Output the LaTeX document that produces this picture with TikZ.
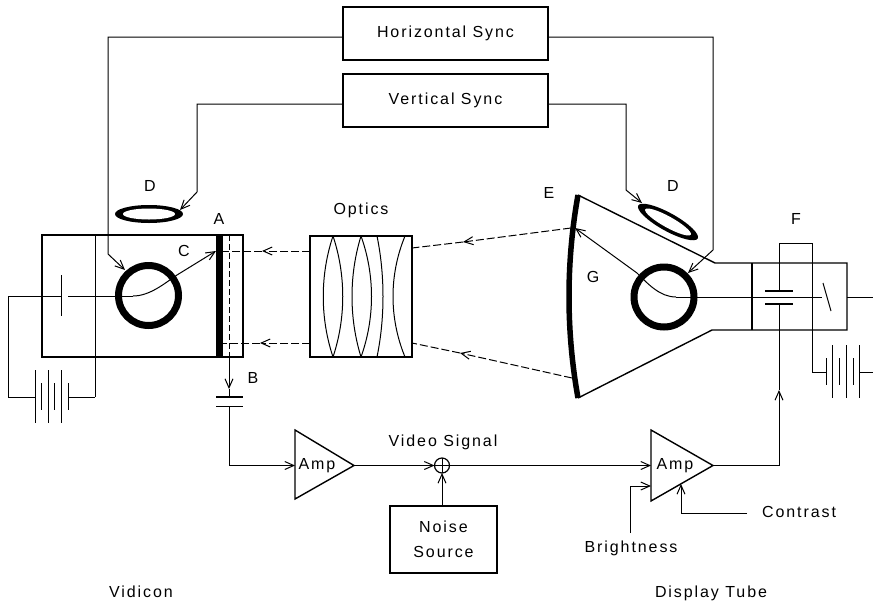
\documentclass[tikz,border=0pt]{standalone}
\usepackage{fontspec}
\setmainfont[LetterSpace=12]{Liberation Sans}
\usetikzlibrary{arrows.meta,shapes.geometric}
\tikzset{
    wire/.style={line width=1pt},
    wall/.style={line width=1.4pt},
    beamdash/.style={line width=1pt,dash pattern=on 8pt off 3pt},
    syncbox/.style={draw,line width=1.4pt,minimum width=205pt,minimum height=53pt,inner sep=0pt,outer sep=0pt},
    coil/.style={ellipse,fill=black,minimum width=68pt,minimum height=18pt,inner sep=0pt},
    coilhole/.style={ellipse,fill=white,minimum width=52pt,minimum height=11pt,inner sep=0pt},
    ring/.style={draw,circle,line width=7pt,minimum size=60pt,inner sep=0pt,outer sep=0pt},
    tag/.style={inner sep=0pt}
}
\begin{document}
\begin{tikzpicture}[x=1pt,y=-1pt,>={Straight Barb[length=9pt,width=8pt]},font=\fontsize{16}{25}\selectfont]
    \useasboundingbox (0,0) rectangle (873,603);

    \node [syncbox] (hsync) at (445.5,33.5) {Horizontal Sync};
    \node [syncbox] (vsync) at (445.5,100.5) {Vertical Sync};
    \node [syncbox,minimum width=107pt,minimum height=67pt,align=center] (noise) at (443.5,539.5) {Noise\\Source};

    \node [ring] (ringv) at (148.5,295.5) {};
    \node [ring] (ringd) at (664,297) {};
    \node [coil] (coilv) at (149,214) {};
    \node [coilhole] (holev) at (149,214) {};
    \node [coil,rotate=-29] (coild) at (668,222) {};
    \node [coilhole,rotate=-29] (holed) at (668,222) {};

    \node [tag] (lblA) at (219,219) {A};
    \node [tag] (lblB) at (253,378) {B};
    \node [tag] (lblC) at (184,251) {C};
    \node [tag] (lblDv) at (150,186) {D};
    \node [tag] (lblDd) at (673,186) {D};
    \node [tag] (lblE) at (549,193) {E};
    \node [tag] (lblF) at (796,219) {F};
    \node [tag] (lblG) at (593,277) {G};
    \node [tag] (lblOptics) at (361,210) {Optics};
    \node [tag] (lblVideo) at (443,442) {Video Signal};
    \node [tag] (lblContrast) at (799,512) {Contrast};
    \node [tag] (lblBright) at (631,548) {Brightness};
    \node [tag] (lblVidicon) at (141,592) {Vidicon};
    \node [tag] (lblDisplay) at (711,593) {Display Tube};

    \coordinate (amponeT) at (295,430);
    \coordinate (amponeB) at (295,499);
    \coordinate (amponeIn) at (295,465.5);
    \coordinate (amponeOut) at (354,465.5);
    \coordinate (amptwoT) at (651,430);
    \coordinate (amptwoB) at (651,501);
    \coordinate (amptwoIn) at (651,465.5);
    \coordinate (amptwoOut) at (713,465.5);
    \draw [wall] (amponeT) -- (amponeOut) -- (amponeB) -- cycle;
    \draw [wall] (amptwoT) -- (amptwoOut) -- (amptwoB) -- cycle;
    \node [tag] (ampone) at (317,466) {Amp};
    \node [tag] (amptwo) at (675,466) {Amp};

    \node [draw,circle,line width=1.2pt,minimum size=15pt,inner sep=0pt,outer sep=0pt] (sum) at (442,465.5) {};
    \draw [wire] (sum.north) -- (sum.south);
    \draw [wire] (sum.west) -- (sum.east);
    \draw [wire,->] (amponeOut) -- (sum.west);
    \draw [wire,->] (sum.east) -- (amptwoIn);
    \draw [wire,->] (noise.north -| sum.south) -- (sum.south);

    \draw [wall] (42,235) rectangle (243,357);
    \draw [wire] (95,235) -- (95,397);
    \fill (216,235) rectangle (223,357);
    \draw [wire,dash pattern=on 6pt off 3pt] (229,235) -- (229,357);

    \draw [wire] (61,275) -- (61,316);
    \draw [wire] (8,296) -- (61,296);
    \draw [wire] (8,296) -- (8,397) -- (35,397);
    \draw [wire] (68,397) -- (95,397);
    \draw [wire] (35,370) -- (35,423);
    \draw [wire] (41,383) -- (41,410);
    \draw [wire] (48,370) -- (48,423);
    \draw [wire] (54,383) -- (54,410);
    \draw [wire] (61,370) -- (61,423);
    \draw [wire] (68,383) -- (68,410);

    \coordinate (guneye) at (133,296);
    \coordinate (gunbend) at (177,275);
    \coordinate (barC) at (216,251);
    \draw [wire] (68,296) -- (guneye);
    \draw [wire,->] (guneye) .. controls (150,296) and (165,283) .. (gunbend) -- (barC);

    \coordinate (barB) at (229,357);
    \coordinate (capTop) at (229,397);
    \coordinate (capBot) at (229,406);
    \draw [wire,->] (barB) -- (229,389);
    \draw [wire] (229,389) -- (capTop);
    \draw [line width=1.5pt] (216,397) -- (243,397);
    \draw [wire] (216,406) -- (243,406);
    \draw [wire,->] (capBot) |- (amponeIn);

    \node [draw,line width=1.4pt,minimum width=102pt,minimum height=121pt,inner sep=0pt,outer sep=0pt] (optics) at (361,296.5) {};
    \draw [wire] (333,236) .. controls (320,275) and (320,318) .. (333,357);
    \draw [wire] (333,236) .. controls (346,275) and (346,318) .. (333,357);
    \draw [wire] (361,236) .. controls (349,275) and (349,318) .. (361,357);
    \draw [wire] (361,236) .. controls (375,275) and (375,318) .. (361,357);
    \draw [wire] (377,236) .. controls (385,275) and (385,318) .. (377,357);
    \draw [wire] (405,236) .. controls (389,275) and (389,318) .. (405,357);

    \coordinate (optLa) at (310,251);
    \coordinate (optLb) at (310,343);
    \coordinate (optRa) at (412,248);
    \coordinate (optRb) at (412,343);
    \coordinate (tipLa) at (262,251);
    \coordinate (tipLb) at (260,343);
    \coordinate (tipRa) at (463,242);
    \coordinate (tipRb) at (460,353);
    \coordinate (barLa) at (223,251);
    \coordinate (barLb) at (223,343);
    \coordinate (scrA) at (571,228);
    \coordinate (scrB) at (572,378);
    \draw [beamdash,->] (optLa) -- (tipLa);
    \draw [beamdash] (tipLa) -- (barLa);
    \draw [beamdash,->] (optLb) -- (tipLb);
    \draw [beamdash] (tipLb) -- (barLb);
    \draw [beamdash,->] (scrA) -- (tipRa);
    \draw [beamdash] (tipRa) -- (optRa);
    \draw [beamdash,->] (scrB) -- (tipRb);
    \draw [beamdash] (tipRb) -- (optRb);

    \draw [line width=5.5pt] (578,195) .. controls (566,262) and (566,331) .. (578,398);
    \draw [wall] (578,195) -- (715,263) -- (847,263) -- (847,330) -- (712,330) -- (578,398);
    \draw [wall] (752,263) -- (752,330);

    \coordinate (dispeye) at (676,297);
    \coordinate (dispbend) at (637,273);
    \coordinate (scrtip) at (575,228);
    \draw [wire] (dispeye) -- (822,297);
    \draw [wire] (847,297) -- (873,297);
    \draw [wire,->] (dispeye) .. controls (660,297) and (648,284) .. (dispbend) -- (scrtip);
    \draw [wire] (823,283) -- (831,311);

    \coordinate (capdTop) at (779,291);
    \coordinate (capdBot) at (779,304);
    \draw [line width=1.3pt] (765,291) -- (793,291);
    \draw [line width=1.3pt] (765,304) -- (793,304);
    \draw [wire] (capdTop) -- (779,243) -- (812,243) -- (812,372) -- (826,372);
    \draw [wire] (859,372) -- (873,372);
    \draw [wire] (826,358) -- (826,385);
    \draw [wire] (832,345) -- (832,398);
    \draw [wire] (839,358) -- (839,385);
    \draw [wire] (846,345) -- (846,398);
    \draw [wire] (853,358) -- (853,385);
    \draw [wire] (859,345) -- (859,398);

    \coordinate (amptwoCorner) at (779,465.5);
    \coordinate (capdTip) at (779,390);
    \draw [wire,->] (amptwoOut) -- (amptwoCorner) -- (capdTip);
    \draw [wire] (capdTip) -- (capdBot);

    \coordinate (contrastEnd) at (747,513);
    \coordinate (contrastCorner) at (681,513);
    \coordinate (contrastTip) at (681,484);
    \draw [wire,->] (contrastEnd) -- (contrastCorner) -- (contrastTip);
    \coordinate (brightEnd) at (630,533);
    \coordinate (brightCorner) at (630,486);
    \coordinate (brightTip) at (651,486);
    \draw [wire,->] (brightEnd) -- (brightCorner) -- (brightTip);

    \coordinate (hsyncL) at (343,37);
    \coordinate (hsyncR) at (548,37);
    \coordinate (vsyncL) at (343,104);
    \coordinate (vsyncR) at (548,104);
    \draw [wire,->] (hsyncL) -- (108,37) -- (108,254) -- (125,270);
    \draw [wire,->] (vsyncL) -- (197,104) -- (197,192) -- (180,210);
    \draw [wire,->] (hsyncR) -- (713,37) -- (713,250) -- (688,273);
    \draw [wire,->] (vsyncR) -- (626,104) -- (626,190) -- (642,203);
\end{tikzpicture}
\end{document}
